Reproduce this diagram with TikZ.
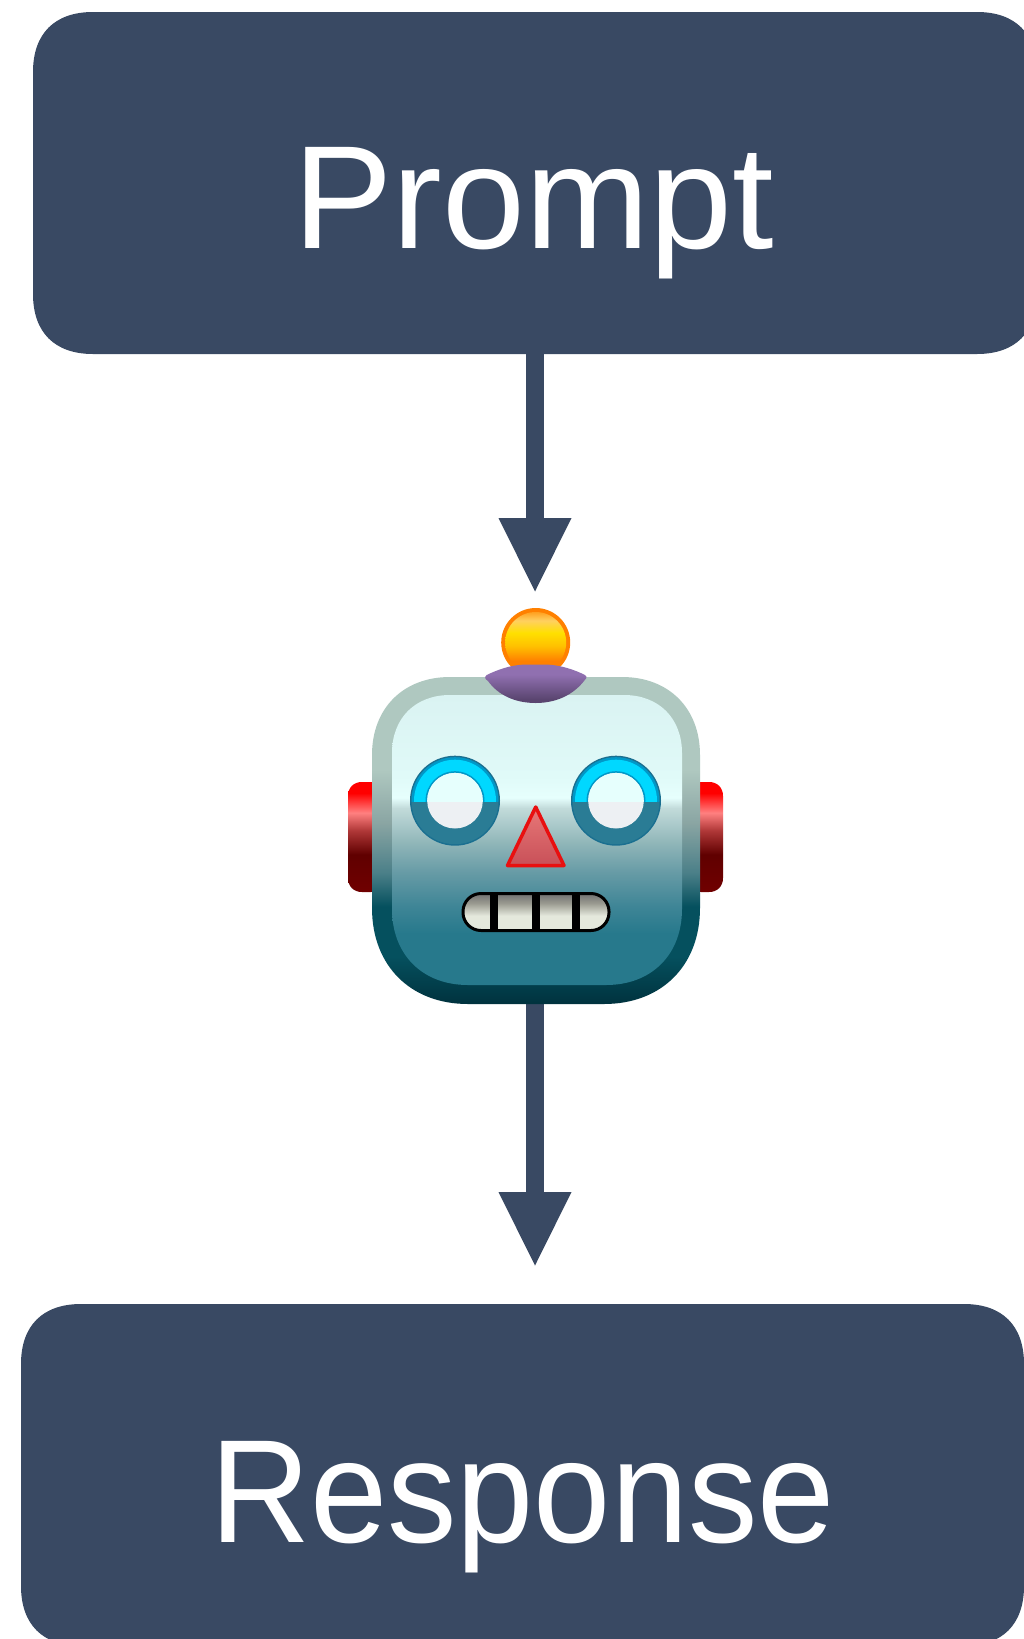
\documentclass[tikz,border=0pt]{standalone}
\usepackage{fontspec}
\setmainfont{Liberation Sans}
\usetikzlibrary{arrows.meta}
\definecolor{navy}{HTML}{394963}
\definecolor{hA}{HTML}{AFC8C0}\definecolor{hB}{HTML}{8AA5A3}\definecolor{hC}{HTML}{4A7F88}\definecolor{hD}{HTML}{05505E}\definecolor{hE}{HTML}{00323E}
\definecolor{fA}{HTML}{DAF3F2}\definecolor{fB}{HTML}{E0FAF8}\definecolor{fC}{HTML}{E6FFFD}\definecolor{fD}{HTML}{C2DBDA}\definecolor{fE}{HTML}{8FB5B8}\definecolor{fF}{HTML}{659AA5}\definecolor{fG}{HTML}{3E8596}\definecolor{fH}{HTML}{27798C}
\definecolor{eA}{HTML}{FF0000}\definecolor{eB}{HTML}{FF8080}\definecolor{eC}{HTML}{B03838}\definecolor{eD}{HTML}{600000}\definecolor{eE}{HTML}{700000}
\definecolor{bT}{HTML}{FFA020}\definecolor{bA}{HTML}{FFD060}\definecolor{bB}{HTML}{FFE000}\definecolor{bC}{HTML}{FFC000}\definecolor{bD}{HTML}{FF8000}
\definecolor{ringdark}{HTML}{1A6F90}\definecolor{ringmid}{HTML}{0098C8}\definecolor{ringlow}{HTML}{2A7C95}\definecolor{ringhigh}{HTML}{00D8FF}\definecolor{pupilhigh}{HTML}{E6FFFD}\definecolor{pupillow}{HTML}{EDF0F3}
\definecolor{mA}{HTML}{707070}\definecolor{mB}{HTML}{9A9A90}\definecolor{mC}{HTML}{E4E8DC}
\definecolor{pA}{HTML}{9070B0}\definecolor{pB}{HTML}{5A4570}
\definecolor{noseline}{HTML}{E81010}\definecolor{noseA}{HTML}{E87878}\definecolor{noseB}{HTML}{C85058}
\pgfdeclareverticalshading{headshade}{100bp}{color(0bp)=(hE); color(25bp)=(hE); color(32.3bp)=(hD); color(39.9bp)=(hD); color(45bp)=(hC); color(52.7bp)=(hB); color(60.8bp)=(hA); color(75bp)=(hA); color(100bp)=(hA)}
\pgfdeclareverticalshading{faceshade}{100bp}{color(0bp)=(fH); color(33.9bp)=(fH); color(38.5bp)=(fG); color(44.2bp)=(fF); color(49.4bp)=(fE); color(55.5bp)=(fD); color(57.3bp)=(fC); color(60.9bp)=(fB); color(75bp)=(fA); color(100bp)=(fA)}
\pgfdeclareverticalshading{earshade}{100bp}{color(0bp)=(eE); color(25bp)=(eE); color(42bp)=(eD); color(53bp)=(eC); color(61bp)=(eB); color(70bp)=(eA); color(100bp)=(eA)}
\pgfdeclareverticalshading{ballshade}{100bp}{color(0bp)=(bD); color(35bp)=(bD); color(47bp)=(bC); color(58bp)=(bB); color(68bp)=(bA); color(75bp)=(bT); color(100bp)=(bT)}
\pgfdeclareverticalshading{mouthshade}{100bp}{color(0bp)=(mC); color(45bp)=(mC); color(62bp)=(mB); color(75bp)=(mA); color(100bp)=(mA)}
\pgfdeclareverticalshading{baseshade}{100bp}{color(0bp)=(pB); color(30bp)=(pB); color(62bp)=(pA); color(100bp)=(pA)}
% x0 y0 x1 y1 top-radius bottom-radius control-factor
\newcommand{\sqpath}[7]{({#1+#5},#2) -- ({#3-#5},#2) .. controls ({#3-#5*#7},#2) and (#3,{#2+#5*#7}) .. (#3,{#2+#5}) -- (#3,{#4-#6}) .. controls (#3,{#4-#6*#7}) and ({#3-#6*#7},#4) .. ({#3-#6},#4) -- ({#1+#6},#4) .. controls ({#1+#6*#7},#4) and (#1,{#4-#6*#7}) .. (#1,{#4-#6}) -- (#1,{#2+#5}) .. controls (#1,{#2+#5*#7}) and ({#1+#5*#7},#2) .. ({#1+#5},#2) -- cycle}
\tikzset{
  box/.style={rectangle,inner sep=0pt,minimum height=342pt},
  lab/.style={anchor=base,text=white,inner sep=0pt,font=\fontsize{147}{160}\selectfont},
  flow/.style={draw=navy,line width=18pt,-{Triangle[width=73pt,length=73.5pt,line width=0pt,fill=navy]}},
}
\begin{document}
\begin{tikzpicture}[x=1pt,y=-1pt]
\useasboundingbox (0,0) rectangle (1024,1639);
\clip (0,0) rectangle (1024,1639);
\fill[white] (0,0) rectangle (1024,1639);
\fill[navy] \sqpath{33}{12}{1037}{354}{60}{60}{0.36};
\fill[navy] \sqpath{21}{1304}{1024}{1646}{60}{60}{0.36};
\node[box,minimum width=1004pt] (promptbox) at (535,183) {};
\node[box,minimum width=1003pt] (responsebox) at (522.5,1475) {};
\node[lab] (prompt) at (533.5,248) {\scalebox{1.014}[1]{Prompt}};
\node[lab] (response) at (522.5,1542) {\scalebox{0.944}[1]{Response}};
\node[inner sep=0pt,minimum width=328pt,minimum height=327pt] (robot) at (535,840.5) {};
\coordinate (tipA) at (535,591.5);
\coordinate (tipB) at (535,1265.5);
\draw[flow] (promptbox.south) -- (tipA);
\draw[flow] (robot.south) -- (tipB);
% ears
\path[shading=earshade] \sqpath{348}{782}{385}{892}{14}{14}{0.4};
\path[shading=earshade] \sqpath{687}{782}{723}{892}{14}{14}{0.4};
% head
\path[shading=headshade] \sqpath{372}{677}{700}{1004}{78}{96}{0.4};
\path[shading=faceshade] \sqpath{392}{695}{682}{985}{58}{76}{0.4};
% antenna
\fill[orange!50!bD] (535.7,642.5) circle (34.5);
\path[shading=ballshade] (535.7,642.5) circle (30.5);
\path[shading=baseshade,line join=round] (486.7,675) .. controls (497,670) and (510,665) .. (525,664.5) -- (546,664.5) .. controls (561,665) and (575,670) .. (585,675) .. controls (588,677) and (586,679) .. (584,681) .. controls (573,695) and (556,703) .. (535.7,703) .. controls (515,703) and (498,695) .. (488,681) .. controls (485,679) and (484,677) .. (486.7,675) -- cycle;
% eyes
\foreach \ex in {455,616}{
  \fill[ringdark] (\ex,800.7) circle (45);
  \fill[ringlow] (\ex,800.7) circle (43.5);
  \begin{scope}
    \clip (\ex-50,740) rectangle (\ex+50,801.7);
    \fill[ringmid] (\ex,800.7) circle (43.5);
    \fill[ringhigh] (\ex,800.7) circle (41);
    \fill[ringmid] (\ex,800.7) circle (29.5);
  \end{scope}
  \fill[pupillow] (\ex,800.7) circle (27.8);
  \begin{scope}
    \clip (\ex-50,740) rectangle (\ex+50,801.7);
    \fill[pupilhigh] (\ex,800.7) circle (27.8);
  \end{scope}
}
% nose
\path[draw=noseline,line width=3.5pt,line join=round,top color=noseA,bottom color=noseB] (535.7,807) -- (564,865.5) -- (507.5,865.5) -- cycle;
% mouth
\begin{scope}
  \path[clip] \sqpath{463}{893.5}{609}{930.5}{18}{18}{0.45};
  \path[shading=mouthshade] (463,893.5) rectangle (609,930.5);
  \fill[black] (490,893) rectangle (498,931);
  \fill[black] (532,893) rectangle (540,931);
  \fill[black] (572,893) rectangle (580,931);
\end{scope}
\draw[black,line width=3pt] \sqpath{463}{893.5}{609}{930.5}{18}{18}{0.45};
\end{tikzpicture}
\end{document}
